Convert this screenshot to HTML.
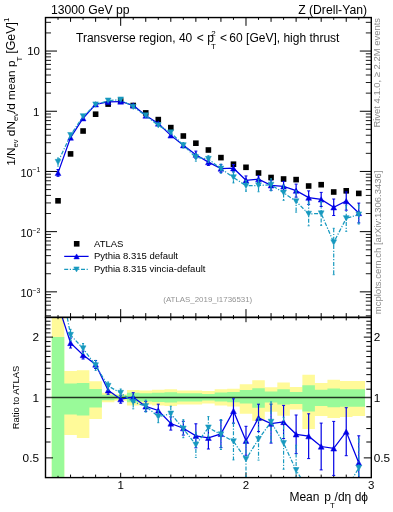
<!DOCTYPE html><html><head><meta charset="utf-8"><style>html,body{margin:0;padding:0;background:#fff;width:393px;height:512px;overflow:hidden}svg{display:block;will-change:transform}text{font-family:"Liberation Sans",sans-serif}</style></head><body>
<svg width="393" height="512" viewBox="0 0 393 512">
<path d="M51.77,317.40 L64.30,317.40 L64.30,371.00 L76.83,371.00 L76.83,370.30 L89.36,370.30 L89.36,381.30 L101.89,381.30 L101.89,392.70 L114.42,392.70 L114.42,394.20 L126.95,394.20 L126.95,390.10 L139.48,390.10 L139.48,390.60 L152.01,390.60 L152.01,389.80 L164.54,389.80 L164.54,389.20 L177.07,389.20 L177.07,390.60 L189.60,390.60 L189.60,390.60 L202.13,390.60 L202.13,391.00 L214.67,391.00 L214.67,389.30 L227.20,389.30 L227.20,388.70 L239.73,388.70 L239.73,384.20 L252.26,384.20 L252.26,380.20 L264.79,380.20 L264.79,387.30 L277.32,387.30 L277.32,382.60 L289.85,382.60 L289.85,387.10 L302.38,387.10 L302.38,374.80 L314.91,374.80 L314.91,383.10 L327.44,383.10 L327.44,379.80 L339.97,379.80 L339.97,380.90 L352.50,380.90 L352.50,380.90 L365.03,380.90 L365.03,416.00 L352.50,416.00 L352.50,417.00 L339.97,417.00 L339.97,418.10 L327.44,418.10 L327.44,416.00 L314.91,416.00 L314.91,429.10 L302.38,429.10 L302.38,409.40 L289.85,409.40 L289.85,415.80 L277.32,415.80 L277.32,411.70 L264.79,411.70 L264.79,421.00 L252.26,421.00 L252.26,413.80 L239.73,413.80 L239.73,406.60 L227.20,406.60 L227.20,405.60 L214.67,405.60 L214.67,403.60 L202.13,403.60 L202.13,404.50 L189.60,404.50 L189.60,404.50 L177.07,404.50 L177.07,406.10 L164.54,406.10 L164.54,405.50 L152.01,405.50 L152.01,404.50 L139.48,404.50 L139.48,405.40 L126.95,405.40 L126.95,400.80 L114.42,400.80 L114.42,402.30 L101.89,402.30 L101.89,418.90 L89.36,418.90 L89.36,437.90 L76.83,437.90 L76.83,435.10 L64.30,435.10 L64.30,477.60 L51.77,477.60 Z" fill="#fffa99"/>
<path d="M51.77,337.10 L64.30,337.10 L64.30,383.60 L76.83,383.60 L76.83,382.90 L89.36,382.90 L89.36,389.10 L101.89,389.10 L101.89,394.70 L114.42,394.70 L114.42,395.20 L126.95,395.20 L126.95,392.70 L139.48,392.70 L139.48,393.30 L152.01,393.30 L152.01,392.70 L164.54,392.70 L164.54,392.20 L177.07,392.20 L177.07,393.30 L189.60,393.30 L189.60,393.30 L202.13,393.30 L202.13,394.00 L214.67,394.00 L214.67,392.40 L227.20,392.40 L227.20,392.00 L239.73,392.00 L239.73,390.00 L252.26,390.00 L252.26,388.30 L264.79,388.30 L264.79,391.40 L277.32,391.40 L277.32,389.30 L289.85,389.30 L289.85,391.90 L302.38,391.90 L302.38,385.30 L314.91,385.30 L314.91,389.70 L327.44,389.70 L327.44,388.60 L339.97,388.60 L339.97,389.30 L352.50,389.30 L352.50,389.30 L365.03,389.30 L365.03,406.80 L352.50,406.80 L352.50,406.80 L339.97,406.80 L339.97,407.20 L327.44,407.20 L327.44,406.10 L314.91,406.10 L314.91,411.60 L302.38,411.60 L302.38,403.90 L289.85,403.90 L289.85,404.60 L277.32,404.60 L277.32,402.60 L264.79,402.60 L264.79,407.70 L252.26,407.70 L252.26,403.60 L239.73,403.60 L239.73,402.20 L227.20,402.20 L227.20,401.60 L214.67,401.60 L214.67,400.50 L202.13,400.50 L202.13,401.40 L189.60,401.40 L189.60,401.40 L177.07,401.40 L177.07,402.40 L164.54,402.40 L164.54,402.00 L152.01,402.00 L152.01,401.40 L139.48,401.40 L139.48,402.30 L126.95,402.30 L126.95,399.30 L114.42,399.30 L114.42,400.30 L101.89,400.30 L101.89,407.40 L89.36,407.40 L89.36,415.60 L76.83,415.60 L76.83,414.50 L64.30,414.50 L64.30,477.60 L51.77,477.60 Z" fill="#99fa99"/>
<line x1="45.5" y1="397.50" x2="371.3" y2="397.50" stroke="#000" stroke-opacity="0.78" stroke-width="1.45"/>
<g><line x1="45.50" y1="315.81" x2="51.00" y2="315.81" stroke="#000" stroke-width="0.9"/><line x1="371.30" y1="315.81" x2="365.80" y2="315.81" stroke="#000" stroke-width="0.9"/><line x1="45.50" y1="309.97" x2="51.00" y2="309.97" stroke="#000" stroke-width="0.9"/><line x1="371.30" y1="309.97" x2="365.80" y2="309.97" stroke="#000" stroke-width="0.9"/><line x1="45.50" y1="305.21" x2="51.00" y2="305.21" stroke="#000" stroke-width="0.9"/><line x1="371.30" y1="305.21" x2="365.80" y2="305.21" stroke="#000" stroke-width="0.9"/><line x1="45.50" y1="301.18" x2="51.00" y2="301.18" stroke="#000" stroke-width="0.9"/><line x1="371.30" y1="301.18" x2="365.80" y2="301.18" stroke="#000" stroke-width="0.9"/><line x1="45.50" y1="297.68" x2="51.00" y2="297.68" stroke="#000" stroke-width="0.9"/><line x1="371.30" y1="297.68" x2="365.80" y2="297.68" stroke="#000" stroke-width="0.9"/><line x1="45.50" y1="294.60" x2="51.00" y2="294.60" stroke="#000" stroke-width="0.9"/><line x1="371.30" y1="294.60" x2="365.80" y2="294.60" stroke="#000" stroke-width="0.9"/><line x1="45.50" y1="291.85" x2="57.00" y2="291.85" stroke="#000" stroke-width="1.0"/><line x1="371.30" y1="291.85" x2="359.80" y2="291.85" stroke="#000" stroke-width="1.0"/><line x1="45.50" y1="273.73" x2="51.00" y2="273.73" stroke="#000" stroke-width="0.9"/><line x1="371.30" y1="273.73" x2="365.80" y2="273.73" stroke="#000" stroke-width="0.9"/><line x1="45.50" y1="263.13" x2="51.00" y2="263.13" stroke="#000" stroke-width="0.9"/><line x1="371.30" y1="263.13" x2="365.80" y2="263.13" stroke="#000" stroke-width="0.9"/><line x1="45.50" y1="255.61" x2="51.00" y2="255.61" stroke="#000" stroke-width="0.9"/><line x1="371.30" y1="255.61" x2="365.80" y2="255.61" stroke="#000" stroke-width="0.9"/><line x1="45.50" y1="249.77" x2="51.00" y2="249.77" stroke="#000" stroke-width="0.9"/><line x1="371.30" y1="249.77" x2="365.80" y2="249.77" stroke="#000" stroke-width="0.9"/><line x1="45.50" y1="245.01" x2="51.00" y2="245.01" stroke="#000" stroke-width="0.9"/><line x1="371.30" y1="245.01" x2="365.80" y2="245.01" stroke="#000" stroke-width="0.9"/><line x1="45.50" y1="240.98" x2="51.00" y2="240.98" stroke="#000" stroke-width="0.9"/><line x1="371.30" y1="240.98" x2="365.80" y2="240.98" stroke="#000" stroke-width="0.9"/><line x1="45.50" y1="237.48" x2="51.00" y2="237.48" stroke="#000" stroke-width="0.9"/><line x1="371.30" y1="237.48" x2="365.80" y2="237.48" stroke="#000" stroke-width="0.9"/><line x1="45.50" y1="234.40" x2="51.00" y2="234.40" stroke="#000" stroke-width="0.9"/><line x1="371.30" y1="234.40" x2="365.80" y2="234.40" stroke="#000" stroke-width="0.9"/><line x1="45.50" y1="231.65" x2="57.00" y2="231.65" stroke="#000" stroke-width="1.0"/><line x1="371.30" y1="231.65" x2="359.80" y2="231.65" stroke="#000" stroke-width="1.0"/><line x1="45.50" y1="213.53" x2="51.00" y2="213.53" stroke="#000" stroke-width="0.9"/><line x1="371.30" y1="213.53" x2="365.80" y2="213.53" stroke="#000" stroke-width="0.9"/><line x1="45.50" y1="202.93" x2="51.00" y2="202.93" stroke="#000" stroke-width="0.9"/><line x1="371.30" y1="202.93" x2="365.80" y2="202.93" stroke="#000" stroke-width="0.9"/><line x1="45.50" y1="195.41" x2="51.00" y2="195.41" stroke="#000" stroke-width="0.9"/><line x1="371.30" y1="195.41" x2="365.80" y2="195.41" stroke="#000" stroke-width="0.9"/><line x1="45.50" y1="189.57" x2="51.00" y2="189.57" stroke="#000" stroke-width="0.9"/><line x1="371.30" y1="189.57" x2="365.80" y2="189.57" stroke="#000" stroke-width="0.9"/><line x1="45.50" y1="184.81" x2="51.00" y2="184.81" stroke="#000" stroke-width="0.9"/><line x1="371.30" y1="184.81" x2="365.80" y2="184.81" stroke="#000" stroke-width="0.9"/><line x1="45.50" y1="180.78" x2="51.00" y2="180.78" stroke="#000" stroke-width="0.9"/><line x1="371.30" y1="180.78" x2="365.80" y2="180.78" stroke="#000" stroke-width="0.9"/><line x1="45.50" y1="177.28" x2="51.00" y2="177.28" stroke="#000" stroke-width="0.9"/><line x1="371.30" y1="177.28" x2="365.80" y2="177.28" stroke="#000" stroke-width="0.9"/><line x1="45.50" y1="174.20" x2="51.00" y2="174.20" stroke="#000" stroke-width="0.9"/><line x1="371.30" y1="174.20" x2="365.80" y2="174.20" stroke="#000" stroke-width="0.9"/><line x1="45.50" y1="171.45" x2="57.00" y2="171.45" stroke="#000" stroke-width="1.0"/><line x1="371.30" y1="171.45" x2="359.80" y2="171.45" stroke="#000" stroke-width="1.0"/><line x1="45.50" y1="153.33" x2="51.00" y2="153.33" stroke="#000" stroke-width="0.9"/><line x1="371.30" y1="153.33" x2="365.80" y2="153.33" stroke="#000" stroke-width="0.9"/><line x1="45.50" y1="142.73" x2="51.00" y2="142.73" stroke="#000" stroke-width="0.9"/><line x1="371.30" y1="142.73" x2="365.80" y2="142.73" stroke="#000" stroke-width="0.9"/><line x1="45.50" y1="135.21" x2="51.00" y2="135.21" stroke="#000" stroke-width="0.9"/><line x1="371.30" y1="135.21" x2="365.80" y2="135.21" stroke="#000" stroke-width="0.9"/><line x1="45.50" y1="129.37" x2="51.00" y2="129.37" stroke="#000" stroke-width="0.9"/><line x1="371.30" y1="129.37" x2="365.80" y2="129.37" stroke="#000" stroke-width="0.9"/><line x1="45.50" y1="124.61" x2="51.00" y2="124.61" stroke="#000" stroke-width="0.9"/><line x1="371.30" y1="124.61" x2="365.80" y2="124.61" stroke="#000" stroke-width="0.9"/><line x1="45.50" y1="120.58" x2="51.00" y2="120.58" stroke="#000" stroke-width="0.9"/><line x1="371.30" y1="120.58" x2="365.80" y2="120.58" stroke="#000" stroke-width="0.9"/><line x1="45.50" y1="117.08" x2="51.00" y2="117.08" stroke="#000" stroke-width="0.9"/><line x1="371.30" y1="117.08" x2="365.80" y2="117.08" stroke="#000" stroke-width="0.9"/><line x1="45.50" y1="114.00" x2="51.00" y2="114.00" stroke="#000" stroke-width="0.9"/><line x1="371.30" y1="114.00" x2="365.80" y2="114.00" stroke="#000" stroke-width="0.9"/><line x1="45.50" y1="111.25" x2="57.00" y2="111.25" stroke="#000" stroke-width="1.0"/><line x1="371.30" y1="111.25" x2="359.80" y2="111.25" stroke="#000" stroke-width="1.0"/><line x1="45.50" y1="93.13" x2="51.00" y2="93.13" stroke="#000" stroke-width="0.9"/><line x1="371.30" y1="93.13" x2="365.80" y2="93.13" stroke="#000" stroke-width="0.9"/><line x1="45.50" y1="82.53" x2="51.00" y2="82.53" stroke="#000" stroke-width="0.9"/><line x1="371.30" y1="82.53" x2="365.80" y2="82.53" stroke="#000" stroke-width="0.9"/><line x1="45.50" y1="75.01" x2="51.00" y2="75.01" stroke="#000" stroke-width="0.9"/><line x1="371.30" y1="75.01" x2="365.80" y2="75.01" stroke="#000" stroke-width="0.9"/><line x1="45.50" y1="69.17" x2="51.00" y2="69.17" stroke="#000" stroke-width="0.9"/><line x1="371.30" y1="69.17" x2="365.80" y2="69.17" stroke="#000" stroke-width="0.9"/><line x1="45.50" y1="64.41" x2="51.00" y2="64.41" stroke="#000" stroke-width="0.9"/><line x1="371.30" y1="64.41" x2="365.80" y2="64.41" stroke="#000" stroke-width="0.9"/><line x1="45.50" y1="60.38" x2="51.00" y2="60.38" stroke="#000" stroke-width="0.9"/><line x1="371.30" y1="60.38" x2="365.80" y2="60.38" stroke="#000" stroke-width="0.9"/><line x1="45.50" y1="56.88" x2="51.00" y2="56.88" stroke="#000" stroke-width="0.9"/><line x1="371.30" y1="56.88" x2="365.80" y2="56.88" stroke="#000" stroke-width="0.9"/><line x1="45.50" y1="53.80" x2="51.00" y2="53.80" stroke="#000" stroke-width="0.9"/><line x1="371.30" y1="53.80" x2="365.80" y2="53.80" stroke="#000" stroke-width="0.9"/><line x1="45.50" y1="51.05" x2="57.00" y2="51.05" stroke="#000" stroke-width="1.0"/><line x1="371.30" y1="51.05" x2="359.80" y2="51.05" stroke="#000" stroke-width="1.0"/><line x1="45.50" y1="32.93" x2="51.00" y2="32.93" stroke="#000" stroke-width="0.9"/><line x1="371.30" y1="32.93" x2="365.80" y2="32.93" stroke="#000" stroke-width="0.9"/><line x1="45.50" y1="22.33" x2="51.00" y2="22.33" stroke="#000" stroke-width="0.9"/><line x1="371.30" y1="22.33" x2="365.80" y2="22.33" stroke="#000" stroke-width="0.9"/><line x1="45.50" y1="457.89" x2="53.00" y2="457.89" stroke="#000" stroke-width="1.0"/><line x1="371.30" y1="457.89" x2="363.80" y2="457.89" stroke="#000" stroke-width="1.0"/><line x1="45.50" y1="442.00" x2="50.50" y2="442.00" stroke="#000" stroke-width="1.0"/><line x1="371.30" y1="442.00" x2="366.30" y2="442.00" stroke="#000" stroke-width="1.0"/><line x1="45.50" y1="428.57" x2="50.50" y2="428.57" stroke="#000" stroke-width="1.0"/><line x1="371.30" y1="428.57" x2="366.30" y2="428.57" stroke="#000" stroke-width="1.0"/><line x1="45.50" y1="416.94" x2="50.50" y2="416.94" stroke="#000" stroke-width="1.0"/><line x1="371.30" y1="416.94" x2="366.30" y2="416.94" stroke="#000" stroke-width="1.0"/><line x1="45.50" y1="406.68" x2="50.50" y2="406.68" stroke="#000" stroke-width="1.0"/><line x1="371.30" y1="406.68" x2="366.30" y2="406.68" stroke="#000" stroke-width="1.0"/><line x1="45.50" y1="389.20" x2="50.50" y2="389.20" stroke="#000" stroke-width="1.0"/><line x1="371.30" y1="389.20" x2="366.30" y2="389.20" stroke="#000" stroke-width="1.0"/><line x1="45.50" y1="381.62" x2="50.50" y2="381.62" stroke="#000" stroke-width="1.0"/><line x1="371.30" y1="381.62" x2="366.30" y2="381.62" stroke="#000" stroke-width="1.0"/><line x1="45.50" y1="374.64" x2="50.50" y2="374.64" stroke="#000" stroke-width="1.0"/><line x1="371.30" y1="374.64" x2="366.30" y2="374.64" stroke="#000" stroke-width="1.0"/><line x1="45.50" y1="368.19" x2="50.50" y2="368.19" stroke="#000" stroke-width="1.0"/><line x1="371.30" y1="368.19" x2="366.30" y2="368.19" stroke="#000" stroke-width="1.0"/><line x1="45.50" y1="362.18" x2="50.50" y2="362.18" stroke="#000" stroke-width="1.0"/><line x1="371.30" y1="362.18" x2="366.30" y2="362.18" stroke="#000" stroke-width="1.0"/><line x1="45.50" y1="356.55" x2="50.50" y2="356.55" stroke="#000" stroke-width="1.0"/><line x1="371.30" y1="356.55" x2="366.30" y2="356.55" stroke="#000" stroke-width="1.0"/><line x1="45.50" y1="351.27" x2="50.50" y2="351.27" stroke="#000" stroke-width="1.0"/><line x1="371.30" y1="351.27" x2="366.30" y2="351.27" stroke="#000" stroke-width="1.0"/><line x1="45.50" y1="346.29" x2="50.50" y2="346.29" stroke="#000" stroke-width="1.0"/><line x1="371.30" y1="346.29" x2="366.30" y2="346.29" stroke="#000" stroke-width="1.0"/><line x1="45.50" y1="341.58" x2="50.50" y2="341.58" stroke="#000" stroke-width="1.0"/><line x1="371.30" y1="341.58" x2="366.30" y2="341.58" stroke="#000" stroke-width="1.0"/><line x1="45.50" y1="337.11" x2="53.00" y2="337.11" stroke="#000" stroke-width="1.0"/><line x1="371.30" y1="337.11" x2="363.80" y2="337.11" stroke="#000" stroke-width="1.0"/><line x1="45.50" y1="332.86" x2="50.50" y2="332.86" stroke="#000" stroke-width="1.0"/><line x1="371.30" y1="332.86" x2="366.30" y2="332.86" stroke="#000" stroke-width="1.0"/><line x1="45.50" y1="328.81" x2="50.50" y2="328.81" stroke="#000" stroke-width="1.0"/><line x1="371.30" y1="328.81" x2="366.30" y2="328.81" stroke="#000" stroke-width="1.0"/><line x1="45.50" y1="324.94" x2="50.50" y2="324.94" stroke="#000" stroke-width="1.0"/><line x1="371.30" y1="324.94" x2="366.30" y2="324.94" stroke="#000" stroke-width="1.0"/><line x1="45.50" y1="321.23" x2="50.50" y2="321.23" stroke="#000" stroke-width="1.0"/><line x1="371.30" y1="321.23" x2="366.30" y2="321.23" stroke="#000" stroke-width="1.0"/><line x1="58.03" y1="17.55" x2="58.03" y2="19.85" stroke="#000" stroke-width="1.0"/><line x1="58.03" y1="317.40" x2="58.03" y2="315.10" stroke="#000" stroke-width="1.0"/><line x1="58.03" y1="317.40" x2="58.03" y2="319.20" stroke="#000" stroke-width="1.0"/><line x1="58.03" y1="477.60" x2="58.03" y2="475.80" stroke="#000" stroke-width="1.0"/><line x1="70.56" y1="17.55" x2="70.56" y2="21.85" stroke="#000" stroke-width="1.0"/><line x1="70.56" y1="317.40" x2="70.56" y2="313.10" stroke="#000" stroke-width="1.0"/><line x1="70.56" y1="317.40" x2="70.56" y2="320.40" stroke="#000" stroke-width="1.0"/><line x1="70.56" y1="477.60" x2="70.56" y2="474.60" stroke="#000" stroke-width="1.0"/><line x1="83.09" y1="17.55" x2="83.09" y2="19.85" stroke="#000" stroke-width="1.0"/><line x1="83.09" y1="317.40" x2="83.09" y2="315.10" stroke="#000" stroke-width="1.0"/><line x1="83.09" y1="317.40" x2="83.09" y2="319.20" stroke="#000" stroke-width="1.0"/><line x1="83.09" y1="477.60" x2="83.09" y2="475.80" stroke="#000" stroke-width="1.0"/><line x1="95.62" y1="17.55" x2="95.62" y2="21.85" stroke="#000" stroke-width="1.0"/><line x1="95.62" y1="317.40" x2="95.62" y2="313.10" stroke="#000" stroke-width="1.0"/><line x1="95.62" y1="317.40" x2="95.62" y2="320.40" stroke="#000" stroke-width="1.0"/><line x1="95.62" y1="477.60" x2="95.62" y2="474.60" stroke="#000" stroke-width="1.0"/><line x1="108.15" y1="17.55" x2="108.15" y2="19.85" stroke="#000" stroke-width="1.0"/><line x1="108.15" y1="317.40" x2="108.15" y2="315.10" stroke="#000" stroke-width="1.0"/><line x1="108.15" y1="317.40" x2="108.15" y2="319.20" stroke="#000" stroke-width="1.0"/><line x1="108.15" y1="477.60" x2="108.15" y2="475.80" stroke="#000" stroke-width="1.0"/><line x1="120.68" y1="17.55" x2="120.68" y2="25.85" stroke="#000" stroke-width="1.0"/><line x1="120.68" y1="317.40" x2="120.68" y2="309.10" stroke="#000" stroke-width="1.0"/><line x1="120.68" y1="317.40" x2="120.68" y2="322.20" stroke="#000" stroke-width="1.0"/><line x1="120.68" y1="477.60" x2="120.68" y2="472.80" stroke="#000" stroke-width="1.0"/><line x1="133.22" y1="17.55" x2="133.22" y2="19.85" stroke="#000" stroke-width="1.0"/><line x1="133.22" y1="317.40" x2="133.22" y2="315.10" stroke="#000" stroke-width="1.0"/><line x1="133.22" y1="317.40" x2="133.22" y2="319.20" stroke="#000" stroke-width="1.0"/><line x1="133.22" y1="477.60" x2="133.22" y2="475.80" stroke="#000" stroke-width="1.0"/><line x1="145.75" y1="17.55" x2="145.75" y2="21.85" stroke="#000" stroke-width="1.0"/><line x1="145.75" y1="317.40" x2="145.75" y2="313.10" stroke="#000" stroke-width="1.0"/><line x1="145.75" y1="317.40" x2="145.75" y2="320.40" stroke="#000" stroke-width="1.0"/><line x1="145.75" y1="477.60" x2="145.75" y2="474.60" stroke="#000" stroke-width="1.0"/><line x1="158.28" y1="17.55" x2="158.28" y2="19.85" stroke="#000" stroke-width="1.0"/><line x1="158.28" y1="317.40" x2="158.28" y2="315.10" stroke="#000" stroke-width="1.0"/><line x1="158.28" y1="317.40" x2="158.28" y2="319.20" stroke="#000" stroke-width="1.0"/><line x1="158.28" y1="477.60" x2="158.28" y2="475.80" stroke="#000" stroke-width="1.0"/><line x1="170.81" y1="17.55" x2="170.81" y2="21.85" stroke="#000" stroke-width="1.0"/><line x1="170.81" y1="317.40" x2="170.81" y2="313.10" stroke="#000" stroke-width="1.0"/><line x1="170.81" y1="317.40" x2="170.81" y2="320.40" stroke="#000" stroke-width="1.0"/><line x1="170.81" y1="477.60" x2="170.81" y2="474.60" stroke="#000" stroke-width="1.0"/><line x1="183.34" y1="17.55" x2="183.34" y2="19.85" stroke="#000" stroke-width="1.0"/><line x1="183.34" y1="317.40" x2="183.34" y2="315.10" stroke="#000" stroke-width="1.0"/><line x1="183.34" y1="317.40" x2="183.34" y2="319.20" stroke="#000" stroke-width="1.0"/><line x1="183.34" y1="477.60" x2="183.34" y2="475.80" stroke="#000" stroke-width="1.0"/><line x1="195.87" y1="17.55" x2="195.87" y2="21.85" stroke="#000" stroke-width="1.0"/><line x1="195.87" y1="317.40" x2="195.87" y2="313.10" stroke="#000" stroke-width="1.0"/><line x1="195.87" y1="317.40" x2="195.87" y2="320.40" stroke="#000" stroke-width="1.0"/><line x1="195.87" y1="477.60" x2="195.87" y2="474.60" stroke="#000" stroke-width="1.0"/><line x1="208.40" y1="17.55" x2="208.40" y2="19.85" stroke="#000" stroke-width="1.0"/><line x1="208.40" y1="317.40" x2="208.40" y2="315.10" stroke="#000" stroke-width="1.0"/><line x1="208.40" y1="317.40" x2="208.40" y2="319.20" stroke="#000" stroke-width="1.0"/><line x1="208.40" y1="477.60" x2="208.40" y2="475.80" stroke="#000" stroke-width="1.0"/><line x1="220.93" y1="17.55" x2="220.93" y2="21.85" stroke="#000" stroke-width="1.0"/><line x1="220.93" y1="317.40" x2="220.93" y2="313.10" stroke="#000" stroke-width="1.0"/><line x1="220.93" y1="317.40" x2="220.93" y2="320.40" stroke="#000" stroke-width="1.0"/><line x1="220.93" y1="477.60" x2="220.93" y2="474.60" stroke="#000" stroke-width="1.0"/><line x1="233.46" y1="17.55" x2="233.46" y2="19.85" stroke="#000" stroke-width="1.0"/><line x1="233.46" y1="317.40" x2="233.46" y2="315.10" stroke="#000" stroke-width="1.0"/><line x1="233.46" y1="317.40" x2="233.46" y2="319.20" stroke="#000" stroke-width="1.0"/><line x1="233.46" y1="477.60" x2="233.46" y2="475.80" stroke="#000" stroke-width="1.0"/><line x1="245.99" y1="17.55" x2="245.99" y2="25.85" stroke="#000" stroke-width="1.0"/><line x1="245.99" y1="317.40" x2="245.99" y2="309.10" stroke="#000" stroke-width="1.0"/><line x1="245.99" y1="317.40" x2="245.99" y2="322.20" stroke="#000" stroke-width="1.0"/><line x1="245.99" y1="477.60" x2="245.99" y2="472.80" stroke="#000" stroke-width="1.0"/><line x1="258.52" y1="17.55" x2="258.52" y2="19.85" stroke="#000" stroke-width="1.0"/><line x1="258.52" y1="317.40" x2="258.52" y2="315.10" stroke="#000" stroke-width="1.0"/><line x1="258.52" y1="317.40" x2="258.52" y2="319.20" stroke="#000" stroke-width="1.0"/><line x1="258.52" y1="477.60" x2="258.52" y2="475.80" stroke="#000" stroke-width="1.0"/><line x1="271.05" y1="17.55" x2="271.05" y2="21.85" stroke="#000" stroke-width="1.0"/><line x1="271.05" y1="317.40" x2="271.05" y2="313.10" stroke="#000" stroke-width="1.0"/><line x1="271.05" y1="317.40" x2="271.05" y2="320.40" stroke="#000" stroke-width="1.0"/><line x1="271.05" y1="477.60" x2="271.05" y2="474.60" stroke="#000" stroke-width="1.0"/><line x1="283.58" y1="17.55" x2="283.58" y2="19.85" stroke="#000" stroke-width="1.0"/><line x1="283.58" y1="317.40" x2="283.58" y2="315.10" stroke="#000" stroke-width="1.0"/><line x1="283.58" y1="317.40" x2="283.58" y2="319.20" stroke="#000" stroke-width="1.0"/><line x1="283.58" y1="477.60" x2="283.58" y2="475.80" stroke="#000" stroke-width="1.0"/><line x1="296.12" y1="17.55" x2="296.12" y2="21.85" stroke="#000" stroke-width="1.0"/><line x1="296.12" y1="317.40" x2="296.12" y2="313.10" stroke="#000" stroke-width="1.0"/><line x1="296.12" y1="317.40" x2="296.12" y2="320.40" stroke="#000" stroke-width="1.0"/><line x1="296.12" y1="477.60" x2="296.12" y2="474.60" stroke="#000" stroke-width="1.0"/><line x1="308.65" y1="17.55" x2="308.65" y2="19.85" stroke="#000" stroke-width="1.0"/><line x1="308.65" y1="317.40" x2="308.65" y2="315.10" stroke="#000" stroke-width="1.0"/><line x1="308.65" y1="317.40" x2="308.65" y2="319.20" stroke="#000" stroke-width="1.0"/><line x1="308.65" y1="477.60" x2="308.65" y2="475.80" stroke="#000" stroke-width="1.0"/><line x1="321.18" y1="17.55" x2="321.18" y2="21.85" stroke="#000" stroke-width="1.0"/><line x1="321.18" y1="317.40" x2="321.18" y2="313.10" stroke="#000" stroke-width="1.0"/><line x1="321.18" y1="317.40" x2="321.18" y2="320.40" stroke="#000" stroke-width="1.0"/><line x1="321.18" y1="477.60" x2="321.18" y2="474.60" stroke="#000" stroke-width="1.0"/><line x1="333.71" y1="17.55" x2="333.71" y2="19.85" stroke="#000" stroke-width="1.0"/><line x1="333.71" y1="317.40" x2="333.71" y2="315.10" stroke="#000" stroke-width="1.0"/><line x1="333.71" y1="317.40" x2="333.71" y2="319.20" stroke="#000" stroke-width="1.0"/><line x1="333.71" y1="477.60" x2="333.71" y2="475.80" stroke="#000" stroke-width="1.0"/><line x1="346.24" y1="17.55" x2="346.24" y2="21.85" stroke="#000" stroke-width="1.0"/><line x1="346.24" y1="317.40" x2="346.24" y2="313.10" stroke="#000" stroke-width="1.0"/><line x1="346.24" y1="317.40" x2="346.24" y2="320.40" stroke="#000" stroke-width="1.0"/><line x1="346.24" y1="477.60" x2="346.24" y2="474.60" stroke="#000" stroke-width="1.0"/><line x1="358.77" y1="17.55" x2="358.77" y2="19.85" stroke="#000" stroke-width="1.0"/><line x1="358.77" y1="317.40" x2="358.77" y2="315.10" stroke="#000" stroke-width="1.0"/><line x1="358.77" y1="317.40" x2="358.77" y2="319.20" stroke="#000" stroke-width="1.0"/><line x1="358.77" y1="477.60" x2="358.77" y2="475.80" stroke="#000" stroke-width="1.0"/></g>
<defs><clipPath id="cm"><rect x="45.5" y="17.55" width="325.8" height="299.84999999999997"/></clipPath><clipPath id="cr"><rect x="45.5" y="317.4" width="325.8" height="160.20000000000005"/></clipPath></defs>
<g clip-path="url(#cm)"><rect x="55.23" y="198.00" width="5.6" height="5.6" fill="#000"/><rect x="67.76" y="151.10" width="5.6" height="5.6" fill="#000"/><rect x="80.29" y="128.20" width="5.6" height="5.6" fill="#000"/><rect x="92.82" y="111.40" width="5.6" height="5.6" fill="#000"/><rect x="105.35" y="101.30" width="5.6" height="5.6" fill="#000"/><rect x="117.88" y="98.20" width="5.6" height="5.6" fill="#000"/><rect x="130.42" y="102.70" width="5.6" height="5.6" fill="#000"/><rect x="142.95" y="110.10" width="5.6" height="5.6" fill="#000"/><rect x="155.48" y="116.80" width="5.6" height="5.6" fill="#000"/><rect x="168.01" y="124.80" width="5.6" height="5.6" fill="#000"/><rect x="180.54" y="133.20" width="5.6" height="5.6" fill="#000"/><rect x="193.07" y="140.40" width="5.6" height="5.6" fill="#000"/><rect x="205.60" y="147.20" width="5.6" height="5.6" fill="#000"/><rect x="218.13" y="154.80" width="5.6" height="5.6" fill="#000"/><rect x="230.66" y="161.40" width="5.6" height="5.6" fill="#000"/><rect x="243.19" y="164.50" width="5.6" height="5.6" fill="#000"/><rect x="255.72" y="170.20" width="5.6" height="5.6" fill="#000"/><rect x="268.25" y="174.70" width="5.6" height="5.6" fill="#000"/><rect x="280.78" y="176.20" width="5.6" height="5.6" fill="#000"/><rect x="293.32" y="176.80" width="5.6" height="5.6" fill="#000"/><rect x="305.85" y="183.20" width="5.6" height="5.6" fill="#000"/><rect x="318.38" y="181.90" width="5.6" height="5.6" fill="#000"/><rect x="330.91" y="189.20" width="5.6" height="5.6" fill="#000"/><rect x="343.44" y="188.00" width="5.6" height="5.6" fill="#000"/><rect x="355.97" y="190.60" width="5.6" height="5.6" fill="#000"/><polyline points="58.03,172.90 70.56,137.54 83.09,118.25 95.62,104.30 108.15,101.94 120.68,101.51 133.22,105.41 145.75,115.57 158.28,123.50 170.81,135.40 183.34,145.21 195.87,154.69 208.40,162.09 220.93,168.52 233.46,168.25 245.99,180.29 258.52,179.12 271.05,185.33 283.58,186.35 296.12,190.64 308.65,197.61 321.18,199.40 333.71,207.28 346.24,201.06 358.77,213.00" fill="none" stroke="#0000e6" stroke-width="1.25"/><line x1="58.03" y1="169.50" x2="58.03" y2="176.30" stroke="#0000e6" stroke-width="1.2"/><line x1="56.53" y1="169.50" x2="59.53" y2="169.50" stroke="#0000e6" stroke-width="1"/><line x1="56.53" y1="176.30" x2="59.53" y2="176.30" stroke="#0000e6" stroke-width="1"/><path d="M55.13,175.57 L60.93,175.57 L58.03,170.23 Z" fill="#0000e6" stroke="#0000e6" stroke-width="0.5"/><path d="M67.66,140.21 L73.46,140.21 L70.56,134.88 Z" fill="#0000e6" stroke="#0000e6" stroke-width="0.5"/><path d="M80.19,120.91 L85.99,120.91 L83.09,115.58 Z" fill="#0000e6" stroke="#0000e6" stroke-width="0.5"/><path d="M92.72,106.96 L98.52,106.96 L95.62,101.63 Z" fill="#0000e6" stroke="#0000e6" stroke-width="0.5"/><path d="M105.25,104.61 L111.05,104.61 L108.15,99.27 Z" fill="#0000e6" stroke="#0000e6" stroke-width="0.5"/><path d="M117.78,104.18 L123.58,104.18 L120.68,98.84 Z" fill="#0000e6" stroke="#0000e6" stroke-width="0.5"/><path d="M130.32,108.08 L136.12,108.08 L133.22,102.74 Z" fill="#0000e6" stroke="#0000e6" stroke-width="0.5"/><path d="M142.85,118.24 L148.65,118.24 L145.75,112.90 Z" fill="#0000e6" stroke="#0000e6" stroke-width="0.5"/><path d="M155.38,126.17 L161.18,126.17 L158.28,120.83 Z" fill="#0000e6" stroke="#0000e6" stroke-width="0.5"/><path d="M167.91,138.07 L173.71,138.07 L170.81,132.73 Z" fill="#0000e6" stroke="#0000e6" stroke-width="0.5"/><path d="M180.44,147.88 L186.24,147.88 L183.34,142.55 Z" fill="#0000e6" stroke="#0000e6" stroke-width="0.5"/><line x1="195.87" y1="151.09" x2="195.87" y2="158.29" stroke="#0000e6" stroke-width="1.2"/><line x1="194.37" y1="151.09" x2="197.37" y2="151.09" stroke="#0000e6" stroke-width="1"/><line x1="194.37" y1="158.29" x2="197.37" y2="158.29" stroke="#0000e6" stroke-width="1"/><path d="M192.97,157.36 L198.77,157.36 L195.87,152.03 Z" fill="#0000e6" stroke="#0000e6" stroke-width="0.5"/><line x1="208.40" y1="158.73" x2="208.40" y2="165.45" stroke="#0000e6" stroke-width="1.2"/><line x1="206.90" y1="158.73" x2="209.90" y2="158.73" stroke="#0000e6" stroke-width="1"/><line x1="206.90" y1="165.45" x2="209.90" y2="165.45" stroke="#0000e6" stroke-width="1"/><path d="M205.50,164.76 L211.30,164.76 L208.40,159.43 Z" fill="#0000e6" stroke="#0000e6" stroke-width="0.5"/><line x1="220.93" y1="164.41" x2="220.93" y2="172.63" stroke="#0000e6" stroke-width="1.2"/><line x1="219.43" y1="164.41" x2="222.43" y2="164.41" stroke="#0000e6" stroke-width="1"/><line x1="219.43" y1="172.63" x2="222.43" y2="172.63" stroke="#0000e6" stroke-width="1"/><path d="M218.03,171.19 L223.83,171.19 L220.93,165.86 Z" fill="#0000e6" stroke="#0000e6" stroke-width="0.5"/><line x1="233.46" y1="164.59" x2="233.46" y2="171.91" stroke="#0000e6" stroke-width="1.2"/><line x1="231.96" y1="164.59" x2="234.96" y2="164.59" stroke="#0000e6" stroke-width="1"/><line x1="231.96" y1="171.91" x2="234.96" y2="171.91" stroke="#0000e6" stroke-width="1"/><path d="M230.56,170.92 L236.36,170.92 L233.46,165.58 Z" fill="#0000e6" stroke="#0000e6" stroke-width="0.5"/><line x1="245.99" y1="175.94" x2="245.99" y2="184.64" stroke="#0000e6" stroke-width="1.2"/><line x1="244.49" y1="175.94" x2="247.49" y2="175.94" stroke="#0000e6" stroke-width="1"/><line x1="244.49" y1="184.64" x2="247.49" y2="184.64" stroke="#0000e6" stroke-width="1"/><path d="M243.09,182.96 L248.89,182.96 L245.99,177.63 Z" fill="#0000e6" stroke="#0000e6" stroke-width="0.5"/><line x1="258.52" y1="175.72" x2="258.52" y2="182.52" stroke="#0000e6" stroke-width="1.2"/><line x1="257.02" y1="175.72" x2="260.02" y2="175.72" stroke="#0000e6" stroke-width="1"/><line x1="257.02" y1="182.52" x2="260.02" y2="182.52" stroke="#0000e6" stroke-width="1"/><path d="M255.62,181.79 L261.42,181.79 L258.52,176.45 Z" fill="#0000e6" stroke="#0000e6" stroke-width="0.5"/><line x1="271.05" y1="180.33" x2="271.05" y2="190.33" stroke="#0000e6" stroke-width="1.2"/><line x1="269.55" y1="180.33" x2="272.55" y2="180.33" stroke="#0000e6" stroke-width="1"/><line x1="269.55" y1="190.33" x2="272.55" y2="190.33" stroke="#0000e6" stroke-width="1"/><path d="M268.15,188.00 L273.95,188.00 L271.05,182.66 Z" fill="#0000e6" stroke="#0000e6" stroke-width="0.5"/><line x1="283.58" y1="181.37" x2="283.58" y2="191.33" stroke="#0000e6" stroke-width="1.2"/><line x1="282.08" y1="181.37" x2="285.08" y2="181.37" stroke="#0000e6" stroke-width="1"/><line x1="282.08" y1="191.33" x2="285.08" y2="191.33" stroke="#0000e6" stroke-width="1"/><path d="M280.68,189.02 L286.48,189.02 L283.58,183.68 Z" fill="#0000e6" stroke="#0000e6" stroke-width="0.5"/><line x1="296.12" y1="184.14" x2="296.12" y2="197.14" stroke="#0000e6" stroke-width="1.2"/><line x1="294.62" y1="184.14" x2="297.62" y2="184.14" stroke="#0000e6" stroke-width="1"/><line x1="294.62" y1="197.14" x2="297.62" y2="197.14" stroke="#0000e6" stroke-width="1"/><path d="M293.22,193.31 L299.02,193.31 L296.12,187.98 Z" fill="#0000e6" stroke="#0000e6" stroke-width="0.5"/><line x1="308.65" y1="190.89" x2="308.65" y2="204.33" stroke="#0000e6" stroke-width="1.2"/><line x1="307.15" y1="190.89" x2="310.15" y2="190.89" stroke="#0000e6" stroke-width="1"/><line x1="307.15" y1="204.33" x2="310.15" y2="204.33" stroke="#0000e6" stroke-width="1"/><path d="M305.75,200.28 L311.55,200.28 L308.65,194.95 Z" fill="#0000e6" stroke="#0000e6" stroke-width="0.5"/><line x1="321.18" y1="192.38" x2="321.18" y2="206.42" stroke="#0000e6" stroke-width="1.2"/><line x1="319.68" y1="192.38" x2="322.68" y2="192.38" stroke="#0000e6" stroke-width="1"/><line x1="319.68" y1="206.42" x2="322.68" y2="206.42" stroke="#0000e6" stroke-width="1"/><path d="M318.28,202.07 L324.08,202.07 L321.18,196.74 Z" fill="#0000e6" stroke="#0000e6" stroke-width="0.5"/><line x1="333.71" y1="199.03" x2="333.71" y2="215.53" stroke="#0000e6" stroke-width="1.2"/><line x1="332.21" y1="199.03" x2="335.21" y2="199.03" stroke="#0000e6" stroke-width="1"/><line x1="332.21" y1="215.53" x2="335.21" y2="215.53" stroke="#0000e6" stroke-width="1"/><path d="M330.81,209.94 L336.61,209.94 L333.71,204.61 Z" fill="#0000e6" stroke="#0000e6" stroke-width="0.5"/><line x1="346.24" y1="191.96" x2="346.24" y2="210.16" stroke="#0000e6" stroke-width="1.2"/><line x1="344.74" y1="191.96" x2="347.74" y2="191.96" stroke="#0000e6" stroke-width="1"/><line x1="344.74" y1="210.16" x2="347.74" y2="210.16" stroke="#0000e6" stroke-width="1"/><path d="M343.34,203.73 L349.14,203.73 L346.24,198.40 Z" fill="#0000e6" stroke="#0000e6" stroke-width="0.5"/><line x1="358.77" y1="203.10" x2="358.77" y2="222.90" stroke="#0000e6" stroke-width="1.2"/><line x1="357.27" y1="203.10" x2="360.27" y2="203.10" stroke="#0000e6" stroke-width="1"/><line x1="357.27" y1="222.90" x2="360.27" y2="222.90" stroke="#0000e6" stroke-width="1"/><path d="M355.87,215.66 L361.67,215.66 L358.77,210.33 Z" fill="#0000e6" stroke="#0000e6" stroke-width="0.5"/><polyline points="58.03,162.00 70.56,135.14 83.09,116.30 95.62,104.57 108.15,100.65 120.68,99.65 133.22,106.85 145.75,115.48 158.28,125.36 170.81,132.46 183.34,145.36 195.87,157.39 208.40,159.03 220.93,168.70 233.46,177.37 245.99,185.82 258.52,185.48 271.05,184.82 283.58,192.71 296.12,201.42 308.65,213.90 321.18,213.50 333.71,242.50 346.24,218.30 358.77,214.56" fill="none" stroke="#1799bf" stroke-width="1.25" stroke-dasharray="4,1.6,1.2,1.6"/><line x1="58.03" y1="158.00" x2="58.03" y2="166.00" stroke="#1799bf" stroke-width="1.2" stroke-dasharray="4,1.6,1.2,1.6"/><line x1="57.03" y1="158.00" x2="59.03" y2="158.00" stroke="#1799bf" stroke-width="1"/><line x1="57.03" y1="166.00" x2="59.03" y2="166.00" stroke="#1799bf" stroke-width="1"/><path d="M55.13,159.33 L60.93,159.33 L58.03,164.67 Z" fill="#1799bf" stroke="#1799bf" stroke-width="0.5"/><path d="M67.66,132.48 L73.46,132.48 L70.56,137.81 Z" fill="#1799bf" stroke="#1799bf" stroke-width="0.5"/><path d="M80.19,113.63 L85.99,113.63 L83.09,118.96 Z" fill="#1799bf" stroke="#1799bf" stroke-width="0.5"/><path d="M92.72,101.90 L98.52,101.90 L95.62,107.23 Z" fill="#1799bf" stroke="#1799bf" stroke-width="0.5"/><path d="M105.25,97.98 L111.05,97.98 L108.15,103.32 Z" fill="#1799bf" stroke="#1799bf" stroke-width="0.5"/><path d="M117.78,96.98 L123.58,96.98 L120.68,102.32 Z" fill="#1799bf" stroke="#1799bf" stroke-width="0.5"/><path d="M130.32,104.18 L136.12,104.18 L133.22,109.52 Z" fill="#1799bf" stroke="#1799bf" stroke-width="0.5"/><path d="M142.85,112.81 L148.65,112.81 L145.75,118.15 Z" fill="#1799bf" stroke="#1799bf" stroke-width="0.5"/><path d="M155.38,122.69 L161.18,122.69 L158.28,128.03 Z" fill="#1799bf" stroke="#1799bf" stroke-width="0.5"/><path d="M167.91,129.79 L173.71,129.79 L170.81,135.13 Z" fill="#1799bf" stroke="#1799bf" stroke-width="0.5"/><line x1="183.34" y1="142.66" x2="183.34" y2="148.06" stroke="#1799bf" stroke-width="1.2" stroke-dasharray="4,1.6,1.2,1.6"/><line x1="182.34" y1="142.66" x2="184.34" y2="142.66" stroke="#1799bf" stroke-width="1"/><line x1="182.34" y1="148.06" x2="184.34" y2="148.06" stroke="#1799bf" stroke-width="1"/><path d="M180.44,142.70 L186.24,142.70 L183.34,148.03 Z" fill="#1799bf" stroke="#1799bf" stroke-width="0.5"/><line x1="195.87" y1="153.61" x2="195.87" y2="161.17" stroke="#1799bf" stroke-width="1.2" stroke-dasharray="4,1.6,1.2,1.6"/><line x1="194.87" y1="153.61" x2="196.87" y2="153.61" stroke="#1799bf" stroke-width="1"/><line x1="194.87" y1="161.17" x2="196.87" y2="161.17" stroke="#1799bf" stroke-width="1"/><path d="M192.97,154.73 L198.77,154.73 L195.87,160.06 Z" fill="#1799bf" stroke="#1799bf" stroke-width="0.5"/><line x1="208.40" y1="155.73" x2="208.40" y2="162.33" stroke="#1799bf" stroke-width="1.2" stroke-dasharray="4,1.6,1.2,1.6"/><line x1="207.40" y1="155.73" x2="209.40" y2="155.73" stroke="#1799bf" stroke-width="1"/><line x1="207.40" y1="162.33" x2="209.40" y2="162.33" stroke="#1799bf" stroke-width="1"/><path d="M205.50,156.37 L211.30,156.37 L208.40,161.70 Z" fill="#1799bf" stroke="#1799bf" stroke-width="0.5"/><line x1="220.93" y1="164.20" x2="220.93" y2="173.20" stroke="#1799bf" stroke-width="1.2" stroke-dasharray="4,1.6,1.2,1.6"/><line x1="219.93" y1="164.20" x2="221.93" y2="164.20" stroke="#1799bf" stroke-width="1"/><line x1="219.93" y1="173.20" x2="221.93" y2="173.20" stroke="#1799bf" stroke-width="1"/><path d="M218.03,166.04 L223.83,166.04 L220.93,171.37 Z" fill="#1799bf" stroke="#1799bf" stroke-width="0.5"/><line x1="233.46" y1="171.82" x2="233.46" y2="182.92" stroke="#1799bf" stroke-width="1.2" stroke-dasharray="4,1.6,1.2,1.6"/><line x1="232.46" y1="171.82" x2="234.46" y2="171.82" stroke="#1799bf" stroke-width="1"/><line x1="232.46" y1="182.92" x2="234.46" y2="182.92" stroke="#1799bf" stroke-width="1"/><path d="M230.56,174.71 L236.36,174.71 L233.46,180.04 Z" fill="#1799bf" stroke="#1799bf" stroke-width="0.5"/><line x1="245.99" y1="180.42" x2="245.99" y2="191.22" stroke="#1799bf" stroke-width="1.2" stroke-dasharray="4,1.6,1.2,1.6"/><line x1="244.99" y1="180.42" x2="246.99" y2="180.42" stroke="#1799bf" stroke-width="1"/><line x1="244.99" y1="191.22" x2="246.99" y2="191.22" stroke="#1799bf" stroke-width="1"/><path d="M243.09,183.15 L248.89,183.15 L245.99,188.48 Z" fill="#1799bf" stroke="#1799bf" stroke-width="0.5"/><line x1="258.52" y1="179.18" x2="258.52" y2="191.78" stroke="#1799bf" stroke-width="1.2" stroke-dasharray="4,1.6,1.2,1.6"/><line x1="257.52" y1="179.18" x2="259.52" y2="179.18" stroke="#1799bf" stroke-width="1"/><line x1="257.52" y1="191.78" x2="259.52" y2="191.78" stroke="#1799bf" stroke-width="1"/><path d="M255.62,182.82 L261.42,182.82 L258.52,188.15 Z" fill="#1799bf" stroke="#1799bf" stroke-width="0.5"/><line x1="271.05" y1="178.82" x2="271.05" y2="190.82" stroke="#1799bf" stroke-width="1.2" stroke-dasharray="4,1.6,1.2,1.6"/><line x1="270.05" y1="178.82" x2="272.05" y2="178.82" stroke="#1799bf" stroke-width="1"/><line x1="270.05" y1="190.82" x2="272.05" y2="190.82" stroke="#1799bf" stroke-width="1"/><path d="M268.15,182.15 L273.95,182.15 L271.05,187.49 Z" fill="#1799bf" stroke="#1799bf" stroke-width="0.5"/><line x1="283.58" y1="185.11" x2="283.58" y2="200.31" stroke="#1799bf" stroke-width="1.2" stroke-dasharray="4,1.6,1.2,1.6"/><line x1="282.58" y1="185.11" x2="284.58" y2="185.11" stroke="#1799bf" stroke-width="1"/><line x1="282.58" y1="200.31" x2="284.58" y2="200.31" stroke="#1799bf" stroke-width="1"/><path d="M280.68,190.05 L286.48,190.05 L283.58,195.38 Z" fill="#1799bf" stroke="#1799bf" stroke-width="0.5"/><line x1="296.12" y1="190.72" x2="296.12" y2="212.12" stroke="#1799bf" stroke-width="1.2" stroke-dasharray="4,1.6,1.2,1.6"/><line x1="295.12" y1="190.72" x2="297.12" y2="190.72" stroke="#1799bf" stroke-width="1"/><line x1="295.12" y1="212.12" x2="297.12" y2="212.12" stroke="#1799bf" stroke-width="1"/><path d="M293.22,198.75 L299.02,198.75 L296.12,204.09 Z" fill="#1799bf" stroke="#1799bf" stroke-width="0.5"/><line x1="308.65" y1="202.00" x2="308.65" y2="225.80" stroke="#1799bf" stroke-width="1.2" stroke-dasharray="4,1.6,1.2,1.6"/><line x1="307.65" y1="202.00" x2="309.65" y2="202.00" stroke="#1799bf" stroke-width="1"/><line x1="307.65" y1="225.80" x2="309.65" y2="225.80" stroke="#1799bf" stroke-width="1"/><path d="M305.75,211.23 L311.55,211.23 L308.65,216.57 Z" fill="#1799bf" stroke="#1799bf" stroke-width="0.5"/><line x1="321.18" y1="201.60" x2="321.18" y2="225.40" stroke="#1799bf" stroke-width="1.2" stroke-dasharray="4,1.6,1.2,1.6"/><line x1="320.18" y1="201.60" x2="322.18" y2="201.60" stroke="#1799bf" stroke-width="1"/><line x1="320.18" y1="225.40" x2="322.18" y2="225.40" stroke="#1799bf" stroke-width="1"/><path d="M318.28,210.83 L324.08,210.83 L321.18,216.17 Z" fill="#1799bf" stroke="#1799bf" stroke-width="0.5"/><line x1="333.71" y1="228.30" x2="333.71" y2="274.70" stroke="#1799bf" stroke-width="1.2" stroke-dasharray="4,1.6,1.2,1.6"/><line x1="332.71" y1="228.30" x2="334.71" y2="228.30" stroke="#1799bf" stroke-width="1"/><line x1="332.71" y1="274.70" x2="334.71" y2="274.70" stroke="#1799bf" stroke-width="1"/><path d="M330.81,239.83 L336.61,239.83 L333.71,245.17 Z" fill="#1799bf" stroke="#1799bf" stroke-width="0.5"/><line x1="346.24" y1="205.30" x2="346.24" y2="231.30" stroke="#1799bf" stroke-width="1.2" stroke-dasharray="4,1.6,1.2,1.6"/><line x1="345.24" y1="205.30" x2="347.24" y2="205.30" stroke="#1799bf" stroke-width="1"/><line x1="345.24" y1="231.30" x2="347.24" y2="231.30" stroke="#1799bf" stroke-width="1"/><path d="M343.34,215.63 L349.14,215.63 L346.24,220.97 Z" fill="#1799bf" stroke="#1799bf" stroke-width="0.5"/><line x1="358.77" y1="205.06" x2="358.77" y2="224.06" stroke="#1799bf" stroke-width="1.2" stroke-dasharray="4,1.6,1.2,1.6"/><line x1="357.77" y1="205.06" x2="359.77" y2="205.06" stroke="#1799bf" stroke-width="1"/><line x1="357.77" y1="224.06" x2="359.77" y2="224.06" stroke="#1799bf" stroke-width="1"/><path d="M355.87,211.89 L361.67,211.89 L358.77,217.23 Z" fill="#1799bf" stroke="#1799bf" stroke-width="0.5"/></g>
<g clip-path="url(#cr)"><polyline points="58.03,304.53 70.56,343.00 83.09,355.00 95.62,364.50 108.15,390.30 120.68,399.20 133.22,397.20 145.75,406.40 158.28,410.50 170.81,423.50 183.34,428.20 195.87,435.80 208.40,437.80 220.93,433.90 233.46,411.00 245.99,440.80 258.52,417.90 271.05,423.60 283.58,422.00 296.12,434.30 308.65,436.20 321.18,446.50 333.71,448.40 346.24,431.70 358.77,462.80" fill="none" stroke="#0000e6" stroke-width="1.25"/><line x1="58.03" y1="302.53" x2="58.03" y2="306.53" stroke="#0000e6" stroke-width="1.2"/><line x1="56.53" y1="302.53" x2="59.53" y2="302.53" stroke="#0000e6" stroke-width="1"/><line x1="56.53" y1="306.53" x2="59.53" y2="306.53" stroke="#0000e6" stroke-width="1"/><path d="M55.13,307.20 L60.93,307.20 L58.03,301.86 Z" fill="#0000e6" stroke="#0000e6" stroke-width="0.5"/><line x1="70.56" y1="338.00" x2="70.56" y2="348.00" stroke="#0000e6" stroke-width="1.2"/><line x1="69.06" y1="338.00" x2="72.06" y2="338.00" stroke="#0000e6" stroke-width="1"/><line x1="69.06" y1="348.00" x2="72.06" y2="348.00" stroke="#0000e6" stroke-width="1"/><path d="M67.66,345.67 L73.46,345.67 L70.56,340.33 Z" fill="#0000e6" stroke="#0000e6" stroke-width="0.5"/><line x1="83.09" y1="351.00" x2="83.09" y2="359.00" stroke="#0000e6" stroke-width="1.2"/><line x1="81.59" y1="351.00" x2="84.59" y2="351.00" stroke="#0000e6" stroke-width="1"/><line x1="81.59" y1="359.00" x2="84.59" y2="359.00" stroke="#0000e6" stroke-width="1"/><path d="M80.19,357.67 L85.99,357.67 L83.09,352.33 Z" fill="#0000e6" stroke="#0000e6" stroke-width="0.5"/><line x1="95.62" y1="360.50" x2="95.62" y2="368.50" stroke="#0000e6" stroke-width="1.2"/><line x1="94.12" y1="360.50" x2="97.12" y2="360.50" stroke="#0000e6" stroke-width="1"/><line x1="94.12" y1="368.50" x2="97.12" y2="368.50" stroke="#0000e6" stroke-width="1"/><path d="M92.72,367.17 L98.52,367.17 L95.62,361.83 Z" fill="#0000e6" stroke="#0000e6" stroke-width="0.5"/><line x1="108.15" y1="386.30" x2="108.15" y2="394.30" stroke="#0000e6" stroke-width="1.2"/><line x1="106.65" y1="386.30" x2="109.65" y2="386.30" stroke="#0000e6" stroke-width="1"/><line x1="106.65" y1="394.30" x2="109.65" y2="394.30" stroke="#0000e6" stroke-width="1"/><path d="M105.25,392.97 L111.05,392.97 L108.15,387.63 Z" fill="#0000e6" stroke="#0000e6" stroke-width="0.5"/><line x1="120.68" y1="395.20" x2="120.68" y2="403.20" stroke="#0000e6" stroke-width="1.2"/><line x1="119.18" y1="395.20" x2="122.18" y2="395.20" stroke="#0000e6" stroke-width="1"/><line x1="119.18" y1="403.20" x2="122.18" y2="403.20" stroke="#0000e6" stroke-width="1"/><path d="M117.78,401.87 L123.58,401.87 L120.68,396.53 Z" fill="#0000e6" stroke="#0000e6" stroke-width="0.5"/><line x1="133.22" y1="392.70" x2="133.22" y2="401.70" stroke="#0000e6" stroke-width="1.2"/><line x1="131.72" y1="392.70" x2="134.72" y2="392.70" stroke="#0000e6" stroke-width="1"/><line x1="131.72" y1="401.70" x2="134.72" y2="401.70" stroke="#0000e6" stroke-width="1"/><path d="M130.32,399.87 L136.12,399.87 L133.22,394.53 Z" fill="#0000e6" stroke="#0000e6" stroke-width="0.5"/><line x1="145.75" y1="401.40" x2="145.75" y2="411.40" stroke="#0000e6" stroke-width="1.2"/><line x1="144.25" y1="401.40" x2="147.25" y2="401.40" stroke="#0000e6" stroke-width="1"/><line x1="144.25" y1="411.40" x2="147.25" y2="411.40" stroke="#0000e6" stroke-width="1"/><path d="M142.85,409.07 L148.65,409.07 L145.75,403.73 Z" fill="#0000e6" stroke="#0000e6" stroke-width="0.5"/><line x1="158.28" y1="404.20" x2="158.28" y2="416.80" stroke="#0000e6" stroke-width="1.2"/><line x1="156.78" y1="404.20" x2="159.78" y2="404.20" stroke="#0000e6" stroke-width="1"/><line x1="156.78" y1="416.80" x2="159.78" y2="416.80" stroke="#0000e6" stroke-width="1"/><path d="M155.38,413.17 L161.18,413.17 L158.28,407.83 Z" fill="#0000e6" stroke="#0000e6" stroke-width="0.5"/><line x1="170.81" y1="416.90" x2="170.81" y2="430.10" stroke="#0000e6" stroke-width="1.2"/><line x1="169.31" y1="416.90" x2="172.31" y2="416.90" stroke="#0000e6" stroke-width="1"/><line x1="169.31" y1="430.10" x2="172.31" y2="430.10" stroke="#0000e6" stroke-width="1"/><path d="M167.91,426.17 L173.71,426.17 L170.81,420.83 Z" fill="#0000e6" stroke="#0000e6" stroke-width="0.5"/><line x1="183.34" y1="421.30" x2="183.34" y2="435.10" stroke="#0000e6" stroke-width="1.2"/><line x1="181.84" y1="421.30" x2="184.84" y2="421.30" stroke="#0000e6" stroke-width="1"/><line x1="181.84" y1="435.10" x2="184.84" y2="435.10" stroke="#0000e6" stroke-width="1"/><path d="M180.44,430.87 L186.24,430.87 L183.34,425.53 Z" fill="#0000e6" stroke="#0000e6" stroke-width="0.5"/><line x1="195.87" y1="423.80" x2="195.87" y2="447.80" stroke="#0000e6" stroke-width="1.2"/><line x1="194.37" y1="423.80" x2="197.37" y2="423.80" stroke="#0000e6" stroke-width="1"/><line x1="194.37" y1="447.80" x2="197.37" y2="447.80" stroke="#0000e6" stroke-width="1"/><path d="M192.97,438.47 L198.77,438.47 L195.87,433.13 Z" fill="#0000e6" stroke="#0000e6" stroke-width="0.5"/><line x1="208.40" y1="426.60" x2="208.40" y2="449.00" stroke="#0000e6" stroke-width="1.2"/><line x1="206.90" y1="426.60" x2="209.90" y2="426.60" stroke="#0000e6" stroke-width="1"/><line x1="206.90" y1="449.00" x2="209.90" y2="449.00" stroke="#0000e6" stroke-width="1"/><path d="M205.50,440.47 L211.30,440.47 L208.40,435.13 Z" fill="#0000e6" stroke="#0000e6" stroke-width="0.5"/><line x1="220.93" y1="420.20" x2="220.93" y2="447.60" stroke="#0000e6" stroke-width="1.2"/><line x1="219.43" y1="420.20" x2="222.43" y2="420.20" stroke="#0000e6" stroke-width="1"/><line x1="219.43" y1="447.60" x2="222.43" y2="447.60" stroke="#0000e6" stroke-width="1"/><path d="M218.03,436.57 L223.83,436.57 L220.93,431.23 Z" fill="#0000e6" stroke="#0000e6" stroke-width="0.5"/><line x1="233.46" y1="398.80" x2="233.46" y2="423.20" stroke="#0000e6" stroke-width="1.2"/><line x1="231.96" y1="398.80" x2="234.96" y2="398.80" stroke="#0000e6" stroke-width="1"/><line x1="231.96" y1="423.20" x2="234.96" y2="423.20" stroke="#0000e6" stroke-width="1"/><path d="M230.56,413.67 L236.36,413.67 L233.46,408.33 Z" fill="#0000e6" stroke="#0000e6" stroke-width="0.5"/><line x1="245.99" y1="426.30" x2="245.99" y2="455.30" stroke="#0000e6" stroke-width="1.2"/><line x1="244.49" y1="426.30" x2="247.49" y2="426.30" stroke="#0000e6" stroke-width="1"/><line x1="244.49" y1="455.30" x2="247.49" y2="455.30" stroke="#0000e6" stroke-width="1"/><path d="M243.09,443.47 L248.89,443.47 L245.99,438.13 Z" fill="#0000e6" stroke="#0000e6" stroke-width="0.5"/><line x1="258.52" y1="404.20" x2="258.52" y2="431.60" stroke="#0000e6" stroke-width="1.2"/><line x1="257.02" y1="404.20" x2="260.02" y2="404.20" stroke="#0000e6" stroke-width="1"/><line x1="257.02" y1="431.60" x2="260.02" y2="431.60" stroke="#0000e6" stroke-width="1"/><path d="M255.62,420.57 L261.42,420.57 L258.52,415.23 Z" fill="#0000e6" stroke="#0000e6" stroke-width="0.5"/><line x1="271.05" y1="404.10" x2="271.05" y2="443.10" stroke="#0000e6" stroke-width="1.2"/><line x1="269.55" y1="404.10" x2="272.55" y2="404.10" stroke="#0000e6" stroke-width="1"/><line x1="269.55" y1="443.10" x2="272.55" y2="443.10" stroke="#0000e6" stroke-width="1"/><path d="M268.15,426.27 L273.95,426.27 L271.05,420.93 Z" fill="#0000e6" stroke="#0000e6" stroke-width="0.5"/><line x1="283.58" y1="405.40" x2="283.58" y2="438.60" stroke="#0000e6" stroke-width="1.2"/><line x1="282.08" y1="405.40" x2="285.08" y2="405.40" stroke="#0000e6" stroke-width="1"/><line x1="282.08" y1="438.60" x2="285.08" y2="438.60" stroke="#0000e6" stroke-width="1"/><path d="M280.68,424.67 L286.48,424.67 L283.58,419.33 Z" fill="#0000e6" stroke="#0000e6" stroke-width="0.5"/><line x1="296.12" y1="415.00" x2="296.12" y2="453.60" stroke="#0000e6" stroke-width="1.2"/><line x1="294.62" y1="415.00" x2="297.62" y2="415.00" stroke="#0000e6" stroke-width="1"/><line x1="294.62" y1="453.60" x2="297.62" y2="453.60" stroke="#0000e6" stroke-width="1"/><path d="M293.22,436.97 L299.02,436.97 L296.12,431.63 Z" fill="#0000e6" stroke="#0000e6" stroke-width="0.5"/><line x1="308.65" y1="413.80" x2="308.65" y2="458.60" stroke="#0000e6" stroke-width="1.2"/><line x1="307.15" y1="413.80" x2="310.15" y2="413.80" stroke="#0000e6" stroke-width="1"/><line x1="307.15" y1="458.60" x2="310.15" y2="458.60" stroke="#0000e6" stroke-width="1"/><path d="M305.75,438.87 L311.55,438.87 L308.65,433.53 Z" fill="#0000e6" stroke="#0000e6" stroke-width="0.5"/><line x1="321.18" y1="423.10" x2="321.18" y2="469.90" stroke="#0000e6" stroke-width="1.2"/><line x1="319.68" y1="423.10" x2="322.68" y2="423.10" stroke="#0000e6" stroke-width="1"/><line x1="319.68" y1="469.90" x2="322.68" y2="469.90" stroke="#0000e6" stroke-width="1"/><path d="M318.28,449.17 L324.08,449.17 L321.18,443.83 Z" fill="#0000e6" stroke="#0000e6" stroke-width="0.5"/><line x1="333.71" y1="421.40" x2="333.71" y2="475.40" stroke="#0000e6" stroke-width="1.2"/><line x1="332.21" y1="421.40" x2="335.21" y2="421.40" stroke="#0000e6" stroke-width="1"/><line x1="332.21" y1="475.40" x2="335.21" y2="475.40" stroke="#0000e6" stroke-width="1"/><path d="M330.81,451.07 L336.61,451.07 L333.71,445.73 Z" fill="#0000e6" stroke="#0000e6" stroke-width="0.5"/><line x1="346.24" y1="407.70" x2="346.24" y2="455.70" stroke="#0000e6" stroke-width="1.2"/><line x1="344.74" y1="407.70" x2="347.74" y2="407.70" stroke="#0000e6" stroke-width="1"/><line x1="344.74" y1="455.70" x2="347.74" y2="455.70" stroke="#0000e6" stroke-width="1"/><path d="M343.34,434.37 L349.14,434.37 L346.24,429.03 Z" fill="#0000e6" stroke="#0000e6" stroke-width="0.5"/><line x1="358.77" y1="435.80" x2="358.77" y2="489.80" stroke="#0000e6" stroke-width="1.2"/><line x1="357.27" y1="435.80" x2="360.27" y2="435.80" stroke="#0000e6" stroke-width="1"/><line x1="357.27" y1="489.80" x2="360.27" y2="489.80" stroke="#0000e6" stroke-width="1"/><path d="M355.87,465.47 L361.67,465.47 L358.77,460.13 Z" fill="#0000e6" stroke="#0000e6" stroke-width="0.5"/><polyline points="58.03,268.21 70.56,335.00 83.09,348.50 95.62,365.40 108.15,386.00 120.68,393.00 133.22,402.00 145.75,406.10 158.28,416.70 170.81,413.70 183.34,428.70 195.87,444.80 208.40,427.60 220.93,434.50 233.46,441.40 245.99,459.20 258.52,439.10 271.05,421.90 283.58,443.20 296.12,470.20 308.65,490.47 321.18,493.47 333.71,565.78 346.24,489.14 358.77,468.00" fill="none" stroke="#1799bf" stroke-width="1.25" stroke-dasharray="4,1.6,1.2,1.6"/><line x1="58.03" y1="265.21" x2="58.03" y2="271.21" stroke="#1799bf" stroke-width="1.2" stroke-dasharray="4,1.6,1.2,1.6"/><line x1="57.03" y1="265.21" x2="59.03" y2="265.21" stroke="#1799bf" stroke-width="1"/><line x1="57.03" y1="271.21" x2="59.03" y2="271.21" stroke="#1799bf" stroke-width="1"/><path d="M55.13,265.54 L60.93,265.54 L58.03,270.88 Z" fill="#1799bf" stroke="#1799bf" stroke-width="0.5"/><line x1="70.56" y1="329.30" x2="70.56" y2="340.70" stroke="#1799bf" stroke-width="1.2" stroke-dasharray="4,1.6,1.2,1.6"/><line x1="69.56" y1="329.30" x2="71.56" y2="329.30" stroke="#1799bf" stroke-width="1"/><line x1="69.56" y1="340.70" x2="71.56" y2="340.70" stroke="#1799bf" stroke-width="1"/><path d="M67.66,332.33 L73.46,332.33 L70.56,337.67 Z" fill="#1799bf" stroke="#1799bf" stroke-width="0.5"/><line x1="83.09" y1="343.50" x2="83.09" y2="353.50" stroke="#1799bf" stroke-width="1.2" stroke-dasharray="4,1.6,1.2,1.6"/><line x1="82.09" y1="343.50" x2="84.09" y2="343.50" stroke="#1799bf" stroke-width="1"/><line x1="82.09" y1="353.50" x2="84.09" y2="353.50" stroke="#1799bf" stroke-width="1"/><path d="M80.19,345.83 L85.99,345.83 L83.09,351.17 Z" fill="#1799bf" stroke="#1799bf" stroke-width="0.5"/><line x1="95.62" y1="360.40" x2="95.62" y2="370.40" stroke="#1799bf" stroke-width="1.2" stroke-dasharray="4,1.6,1.2,1.6"/><line x1="94.62" y1="360.40" x2="96.62" y2="360.40" stroke="#1799bf" stroke-width="1"/><line x1="94.62" y1="370.40" x2="96.62" y2="370.40" stroke="#1799bf" stroke-width="1"/><path d="M92.72,362.73 L98.52,362.73 L95.62,368.07 Z" fill="#1799bf" stroke="#1799bf" stroke-width="0.5"/><line x1="108.15" y1="382.00" x2="108.15" y2="390.00" stroke="#1799bf" stroke-width="1.2" stroke-dasharray="4,1.6,1.2,1.6"/><line x1="107.15" y1="382.00" x2="109.15" y2="382.00" stroke="#1799bf" stroke-width="1"/><line x1="107.15" y1="390.00" x2="109.15" y2="390.00" stroke="#1799bf" stroke-width="1"/><path d="M105.25,383.33 L111.05,383.33 L108.15,388.67 Z" fill="#1799bf" stroke="#1799bf" stroke-width="0.5"/><line x1="120.68" y1="389.00" x2="120.68" y2="397.00" stroke="#1799bf" stroke-width="1.2" stroke-dasharray="4,1.6,1.2,1.6"/><line x1="119.68" y1="389.00" x2="121.68" y2="389.00" stroke="#1799bf" stroke-width="1"/><line x1="119.68" y1="397.00" x2="121.68" y2="397.00" stroke="#1799bf" stroke-width="1"/><path d="M117.78,390.33 L123.58,390.33 L120.68,395.67 Z" fill="#1799bf" stroke="#1799bf" stroke-width="0.5"/><line x1="133.22" y1="395.20" x2="133.22" y2="408.80" stroke="#1799bf" stroke-width="1.2" stroke-dasharray="4,1.6,1.2,1.6"/><line x1="132.22" y1="395.20" x2="134.22" y2="395.20" stroke="#1799bf" stroke-width="1"/><line x1="132.22" y1="408.80" x2="134.22" y2="408.80" stroke="#1799bf" stroke-width="1"/><path d="M130.32,399.33 L136.12,399.33 L133.22,404.67 Z" fill="#1799bf" stroke="#1799bf" stroke-width="0.5"/><line x1="145.75" y1="400.10" x2="145.75" y2="412.10" stroke="#1799bf" stroke-width="1.2" stroke-dasharray="4,1.6,1.2,1.6"/><line x1="144.75" y1="400.10" x2="146.75" y2="400.10" stroke="#1799bf" stroke-width="1"/><line x1="144.75" y1="412.10" x2="146.75" y2="412.10" stroke="#1799bf" stroke-width="1"/><path d="M142.85,403.43 L148.65,403.43 L145.75,408.77 Z" fill="#1799bf" stroke="#1799bf" stroke-width="0.5"/><line x1="158.28" y1="410.70" x2="158.28" y2="422.70" stroke="#1799bf" stroke-width="1.2" stroke-dasharray="4,1.6,1.2,1.6"/><line x1="157.28" y1="410.70" x2="159.28" y2="410.70" stroke="#1799bf" stroke-width="1"/><line x1="157.28" y1="422.70" x2="159.28" y2="422.70" stroke="#1799bf" stroke-width="1"/><path d="M155.38,414.03 L161.18,414.03 L158.28,419.37 Z" fill="#1799bf" stroke="#1799bf" stroke-width="0.5"/><line x1="170.81" y1="406.20" x2="170.81" y2="421.20" stroke="#1799bf" stroke-width="1.2" stroke-dasharray="4,1.6,1.2,1.6"/><line x1="169.81" y1="406.20" x2="171.81" y2="406.20" stroke="#1799bf" stroke-width="1"/><line x1="169.81" y1="421.20" x2="171.81" y2="421.20" stroke="#1799bf" stroke-width="1"/><path d="M167.91,411.03 L173.71,411.03 L170.81,416.37 Z" fill="#1799bf" stroke="#1799bf" stroke-width="0.5"/><line x1="183.34" y1="419.70" x2="183.34" y2="437.70" stroke="#1799bf" stroke-width="1.2" stroke-dasharray="4,1.6,1.2,1.6"/><line x1="182.34" y1="419.70" x2="184.34" y2="419.70" stroke="#1799bf" stroke-width="1"/><line x1="182.34" y1="437.70" x2="184.34" y2="437.70" stroke="#1799bf" stroke-width="1"/><path d="M180.44,426.03 L186.24,426.03 L183.34,431.37 Z" fill="#1799bf" stroke="#1799bf" stroke-width="0.5"/><line x1="195.87" y1="432.20" x2="195.87" y2="457.40" stroke="#1799bf" stroke-width="1.2" stroke-dasharray="4,1.6,1.2,1.6"/><line x1="194.87" y1="432.20" x2="196.87" y2="432.20" stroke="#1799bf" stroke-width="1"/><line x1="194.87" y1="457.40" x2="196.87" y2="457.40" stroke="#1799bf" stroke-width="1"/><path d="M192.97,442.13 L198.77,442.13 L195.87,447.47 Z" fill="#1799bf" stroke="#1799bf" stroke-width="0.5"/><line x1="208.40" y1="416.60" x2="208.40" y2="438.60" stroke="#1799bf" stroke-width="1.2" stroke-dasharray="4,1.6,1.2,1.6"/><line x1="207.40" y1="416.60" x2="209.40" y2="416.60" stroke="#1799bf" stroke-width="1"/><line x1="207.40" y1="438.60" x2="209.40" y2="438.60" stroke="#1799bf" stroke-width="1"/><path d="M205.50,424.93 L211.30,424.93 L208.40,430.27 Z" fill="#1799bf" stroke="#1799bf" stroke-width="0.5"/><line x1="220.93" y1="419.50" x2="220.93" y2="449.50" stroke="#1799bf" stroke-width="1.2" stroke-dasharray="4,1.6,1.2,1.6"/><line x1="219.93" y1="419.50" x2="221.93" y2="419.50" stroke="#1799bf" stroke-width="1"/><line x1="219.93" y1="449.50" x2="221.93" y2="449.50" stroke="#1799bf" stroke-width="1"/><path d="M218.03,431.83 L223.83,431.83 L220.93,437.17 Z" fill="#1799bf" stroke="#1799bf" stroke-width="0.5"/><line x1="233.46" y1="422.90" x2="233.46" y2="459.90" stroke="#1799bf" stroke-width="1.2" stroke-dasharray="4,1.6,1.2,1.6"/><line x1="232.46" y1="422.90" x2="234.46" y2="422.90" stroke="#1799bf" stroke-width="1"/><line x1="232.46" y1="459.90" x2="234.46" y2="459.90" stroke="#1799bf" stroke-width="1"/><path d="M230.56,438.73 L236.36,438.73 L233.46,444.07 Z" fill="#1799bf" stroke="#1799bf" stroke-width="0.5"/><line x1="245.99" y1="441.20" x2="245.99" y2="477.20" stroke="#1799bf" stroke-width="1.2" stroke-dasharray="4,1.6,1.2,1.6"/><line x1="244.99" y1="441.20" x2="246.99" y2="441.20" stroke="#1799bf" stroke-width="1"/><line x1="244.99" y1="477.20" x2="246.99" y2="477.20" stroke="#1799bf" stroke-width="1"/><path d="M243.09,456.53 L248.89,456.53 L245.99,461.87 Z" fill="#1799bf" stroke="#1799bf" stroke-width="0.5"/><line x1="258.52" y1="418.10" x2="258.52" y2="460.10" stroke="#1799bf" stroke-width="1.2" stroke-dasharray="4,1.6,1.2,1.6"/><line x1="257.52" y1="418.10" x2="259.52" y2="418.10" stroke="#1799bf" stroke-width="1"/><line x1="257.52" y1="460.10" x2="259.52" y2="460.10" stroke="#1799bf" stroke-width="1"/><path d="M255.62,436.43 L261.42,436.43 L258.52,441.77 Z" fill="#1799bf" stroke="#1799bf" stroke-width="0.5"/><line x1="271.05" y1="401.90" x2="271.05" y2="441.90" stroke="#1799bf" stroke-width="1.2" stroke-dasharray="4,1.6,1.2,1.6"/><line x1="270.05" y1="401.90" x2="272.05" y2="401.90" stroke="#1799bf" stroke-width="1"/><line x1="270.05" y1="441.90" x2="272.05" y2="441.90" stroke="#1799bf" stroke-width="1"/><path d="M268.15,419.23 L273.95,419.23 L271.05,424.57 Z" fill="#1799bf" stroke="#1799bf" stroke-width="0.5"/><line x1="283.58" y1="417.20" x2="283.58" y2="469.20" stroke="#1799bf" stroke-width="1.2" stroke-dasharray="4,1.6,1.2,1.6"/><line x1="282.58" y1="417.20" x2="284.58" y2="417.20" stroke="#1799bf" stroke-width="1"/><line x1="282.58" y1="469.20" x2="284.58" y2="469.20" stroke="#1799bf" stroke-width="1"/><path d="M280.68,440.53 L286.48,440.53 L283.58,445.87 Z" fill="#1799bf" stroke="#1799bf" stroke-width="0.5"/><line x1="296.12" y1="445.20" x2="296.12" y2="495.20" stroke="#1799bf" stroke-width="1.2" stroke-dasharray="4,1.6,1.2,1.6"/><line x1="295.12" y1="445.20" x2="297.12" y2="445.20" stroke="#1799bf" stroke-width="1"/><line x1="295.12" y1="495.20" x2="297.12" y2="495.20" stroke="#1799bf" stroke-width="1"/><path d="M293.22,467.53 L299.02,467.53 L296.12,472.87 Z" fill="#1799bf" stroke="#1799bf" stroke-width="0.5"/><line x1="308.65" y1="482.47" x2="308.65" y2="498.47" stroke="#1799bf" stroke-width="1.2" stroke-dasharray="4,1.6,1.2,1.6"/><line x1="307.65" y1="482.47" x2="309.65" y2="482.47" stroke="#1799bf" stroke-width="1"/><line x1="307.65" y1="498.47" x2="309.65" y2="498.47" stroke="#1799bf" stroke-width="1"/><path d="M305.75,487.80 L311.55,487.80 L308.65,493.14 Z" fill="#1799bf" stroke="#1799bf" stroke-width="0.5"/><line x1="321.18" y1="485.47" x2="321.18" y2="501.47" stroke="#1799bf" stroke-width="1.2" stroke-dasharray="4,1.6,1.2,1.6"/><line x1="320.18" y1="485.47" x2="322.18" y2="485.47" stroke="#1799bf" stroke-width="1"/><line x1="320.18" y1="501.47" x2="322.18" y2="501.47" stroke="#1799bf" stroke-width="1"/><path d="M318.28,490.80 L324.08,490.80 L321.18,496.14 Z" fill="#1799bf" stroke="#1799bf" stroke-width="0.5"/><line x1="333.71" y1="557.78" x2="333.71" y2="573.78" stroke="#1799bf" stroke-width="1.2" stroke-dasharray="4,1.6,1.2,1.6"/><line x1="332.71" y1="557.78" x2="334.71" y2="557.78" stroke="#1799bf" stroke-width="1"/><line x1="332.71" y1="573.78" x2="334.71" y2="573.78" stroke="#1799bf" stroke-width="1"/><path d="M330.81,563.11 L336.61,563.11 L333.71,568.45 Z" fill="#1799bf" stroke="#1799bf" stroke-width="0.5"/><line x1="346.24" y1="481.14" x2="346.24" y2="497.14" stroke="#1799bf" stroke-width="1.2" stroke-dasharray="4,1.6,1.2,1.6"/><line x1="345.24" y1="481.14" x2="347.24" y2="481.14" stroke="#1799bf" stroke-width="1"/><line x1="345.24" y1="497.14" x2="347.24" y2="497.14" stroke="#1799bf" stroke-width="1"/><path d="M343.34,486.47 L349.14,486.47 L346.24,491.80 Z" fill="#1799bf" stroke="#1799bf" stroke-width="0.5"/><line x1="358.77" y1="439.00" x2="358.77" y2="497.00" stroke="#1799bf" stroke-width="1.2" stroke-dasharray="4,1.6,1.2,1.6"/><line x1="357.77" y1="439.00" x2="359.77" y2="439.00" stroke="#1799bf" stroke-width="1"/><line x1="357.77" y1="497.00" x2="359.77" y2="497.00" stroke="#1799bf" stroke-width="1"/><path d="M355.87,465.33 L361.67,465.33 L358.77,470.67 Z" fill="#1799bf" stroke="#1799bf" stroke-width="0.5"/></g>
<rect x="45.5" y="17.55" width="325.80" height="299.85" fill="none" stroke="#000" stroke-width="1.4"/>
<rect x="45.5" y="317.4" width="325.80" height="160.20" fill="none" stroke="#000" stroke-width="1.4"/>
<text x="51.00" y="14.00" font-size="12.2" text-anchor="start" fill="#000">13000 GeV pp</text><text x="367.00" y="14.00" font-size="12.2" text-anchor="end" fill="#000">Z (Drell-Yan)</text><text x="76.0" y="41.7" font-size="12" fill="#000">Transverse region, 40 <tspan dx="1.2">&lt;</tspan> p<tspan font-size="8" dx="-2.6" dy="-5.7">2</tspan><tspan font-size="8" dx="-4.6" dy="12.9">T</tspan><tspan dy="-7.2" dx="0.6"> &lt;</tspan><tspan dx="-0.9"> 60 [GeV], high thrust</tspan></text><text x="40.00" y="55.15" font-size="11.5" text-anchor="end" fill="#000">10</text><text x="39.50" y="115.85" font-size="11.5" text-anchor="end" fill="#000">1</text><text x="40.30" y="176.75" font-size="11" text-anchor="end">10<tspan font-size="6.8" dy="-4.3" dx="-0.2">&#8722;1</tspan></text><text x="40.30" y="236.95" font-size="11" text-anchor="end">10<tspan font-size="6.8" dy="-4.3" dx="-0.2">&#8722;2</tspan></text><text x="40.30" y="297.15" font-size="11" text-anchor="end">10<tspan font-size="6.8" dy="-4.3" dx="-0.2">&#8722;3</tspan></text><text x="39.00" y="341.21" font-size="11.8" text-anchor="end" fill="#000">2</text><text x="373.70" y="341.21" font-size="11.8" text-anchor="start" fill="#000">2</text><text x="39.00" y="401.60" font-size="11.8" text-anchor="end" fill="#000">1</text><text x="373.70" y="401.60" font-size="11.8" text-anchor="start" fill="#000">1</text><text x="39.00" y="461.99" font-size="11.8" text-anchor="end" fill="#000">0.5</text><text x="373.70" y="461.99" font-size="11.8" text-anchor="start" fill="#000">0.5</text><text x="120.68" y="488.60" font-size="11.5" text-anchor="middle" fill="#000">1</text><text x="245.99" y="488.60" font-size="11.5" text-anchor="middle" fill="#000">2</text><text x="371.30" y="488.60" font-size="11.5" text-anchor="middle" fill="#000">3</text><text x="289.4" y="500.7" font-size="12">Mean <tspan dx="1.4">p</tspan><tspan font-size="7.8" dy="7" dx="-0.8">T</tspan><tspan dy="-7" dx="-0.2">/d&#951; d&#981;</tspan></text><text transform="translate(14.8,165.8) rotate(-90)" x="0" y="0" font-size="11.8">1/N<tspan font-size="7.6" dy="3.6">ev</tspan><tspan dy="-3.6"> dN</tspan><tspan font-size="7.6" dy="3.6">ev</tspan><tspan dy="-3.6">/d mean p</tspan><tspan font-size="8" dy="7" dx="-0.9">T</tspan><tspan dy="-7" dx="-0.6" font-size="12.4"> [GeV]</tspan><tspan font-size="8" dy="-5.9">1</tspan></text><text transform="translate(18.6,397.5) rotate(-90)" x="0" y="0" font-size="9.4" text-anchor="middle">Ratio to ATLAS</text><text transform="translate(380.2,127.6) rotate(-90)" x="0" y="0" font-size="9.45" fill="#8a8a8a">Rivet 4.1.0, &#8805; 2.2M events</text><text transform="translate(381.2,314.2) rotate(-90)" x="0" y="0" font-size="9.5" fill="#8a8a8a">mcplots.cern.ch [arXiv:1306.3436]</text><text x="163.30" y="302.20" font-size="7.9" text-anchor="start" fill="#939393">(ATLAS_2019_I1736531)</text><rect x="73.9" y="241.0" width="5.6" height="5.6" fill="#000"/><text x="94.00" y="246.70" font-size="9.5" text-anchor="start" fill="#000">ATLAS</text><line x1="64.2" y1="256.4" x2="88.6" y2="256.4" stroke="#0000e6" stroke-width="1.25"/><path d="M73.90,258.88 L79.30,258.88 L76.60,253.92 Z" fill="#0000e6" stroke="#0000e6" stroke-width="0.5"/><text x="94.00" y="259.00" font-size="9.5" text-anchor="start" fill="#000">Pythia 8.315 default</text><line x1="64.2" y1="269.3" x2="88.6" y2="269.3" stroke="#1799bf" stroke-width="1.25" stroke-dasharray="4,1.6,1.2,1.6"/><path d="M73.80,266.92 L79.20,266.92 L76.50,271.88 Z" fill="#1799bf" stroke="#1799bf" stroke-width="0.5"/><text x="94.00" y="271.60" font-size="9.5" text-anchor="start" fill="#000">Pythia 8.315 vincia-default</text>
</svg></body></html>
